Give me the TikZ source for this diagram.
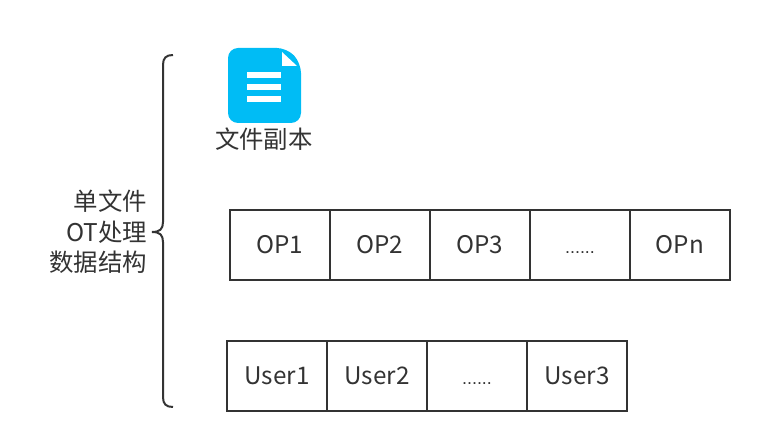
\documentclass[tikz,border=0pt]{standalone}
\usepackage{fontspec}
\setmainfont{Noto Sans CJK SC}
\newfontfamily\dotface{Liberation Sans}
\definecolor{inkgray}{HTML}{333333}
\definecolor{iconblue}{HTML}{00BCF5}
\tikzset{
  cell/.style={draw=inkgray,line width=0.04cm,minimum width=2cm,minimum height=1.4cm,inner sep=0pt,text=inkgray,text height=10pt,text depth=0pt,font=\fontsize{13.8pt}{16pt}\selectfont},
  dotcell/.style={cell,font=\dotface\fontsize{10.2pt}{12pt}\selectfont},
  caption/.style={inner sep=0pt,text=inkgray,font=\fontsize{13.9pt}{17.3pt}\selectfont}
}
\begin{document}
\begin{tikzpicture}[x=0.02cm,y=-0.02cm]
\useasboundingbox (0,0) rectangle (762,442);
\fill[iconblue,rounded corners=0.2cm] (228,48)--(287,48)--(301,63)--(301,123)--(228,123)--cycle;
\fill[white] (282,52)--(297,66)--(282,66)--cycle;
\fill[white] (247,72) rectangle (281,78);
\fill[white] (247,84) rectangle (281,90);
\fill[white] (247,96) rectangle (281,102);
\node[caption] (copylabel) at (264,139) {文件副本};
\node[caption,align=right,anchor=east] (leftlabel) at (147.5,232) {单文件\\OT处理\\数据结构};
\draw[inkgray,line width=0.04cm] (173,55) .. controls (166,55) and (163,58) .. (163,65)
  --(163,222) .. controls (163,229) and (160,232) .. (152,232)
  .. controls (160,232) and (163,235) .. (163,242)
  --(163,397) .. controls (163,404) and (166,407) .. (173,407);
\node[cell] (op1) at (280,245) {OP1};
\node[cell] (op2) at (380,245) {OP2};
\node[cell] (op3) at (480,245) {OP3};
\node[dotcell] (opdots) at (580,245) {......};
\node[cell] (opn) at (680,245) {OPn};
\node[cell] (user1) at (277,376) {User1};
\node[cell] (user2) at (377,376) {User2};
\node[dotcell] (userdots) at (477,376) {......};
\node[cell] (user3) at (577,376) {User3};
\end{tikzpicture}
\end{document}
